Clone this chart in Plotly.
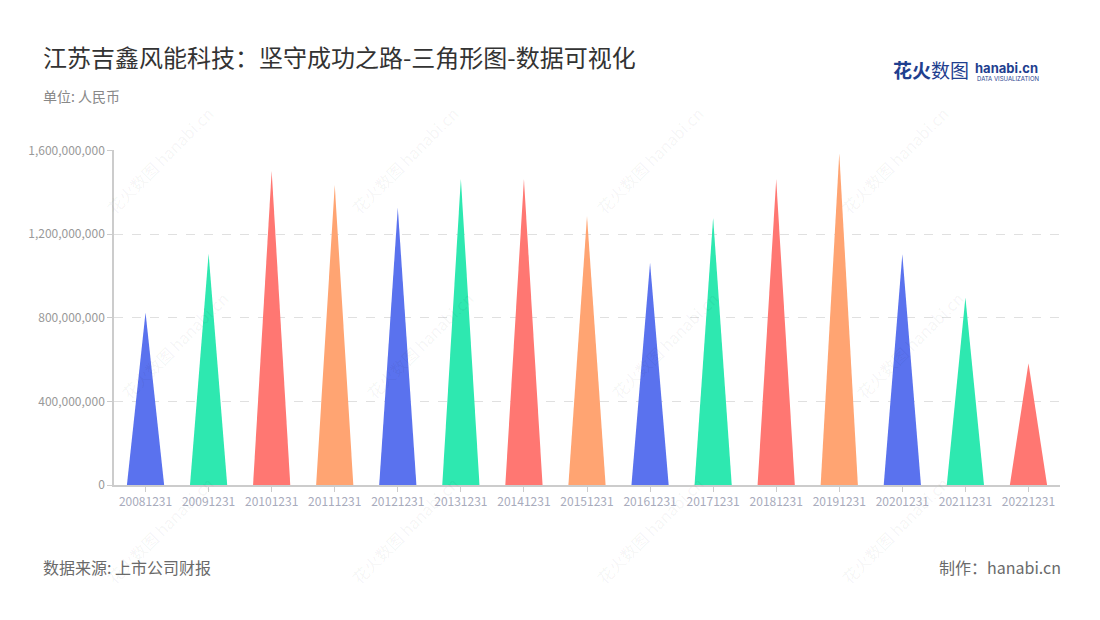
import plotly.graph_objects as go

categories = ["20081231", "20091231", "20101231", "20111231", "20121231",
              "20131231", "20141231", "20151231", "20161231", "20171231",
              "20181231", "20191231", "20201231", "20211231", "20221231"]
values = [825e6, 1107e6, 1502e6, 1435e6, 1327e6,
          1466e6, 1463e6, 1287e6, 1064e6, 1279e6,
          1463e6, 1587e6, 1104e6, 897e6, 583e6]
palette = ["#5A72EE", "#2EE8B0", "#FF7772", "#FFA472"]
y_ticks = [0, 400e6, 800e6, 1200e6, 1600e6]

FONT = "Noto Sans CJK SC"
half = 0.295
OFF = 8  # page body margin
W, H = 1100, 620
L, R, T, B = 114 - OFF, 40 + OFF, 150 - OFF, 135 + OFF

fig = go.Figure()
for i, (c, v) in enumerate(zip(categories, values)):
    fig.add_trace(go.Scatter(
        x=[i - half, i, i + half, i - half],
        y=[0, v, 0, 0],
        mode="lines",
        fill="toself",
        fillcolor=palette[i % 4],
        line=dict(width=0, color=palette[i % 4]),
        name=c,
        hoverinfo="text",
        text=f"{c}: {v:,.0f}",
        showlegend=False,
    ))

fig.update_layout(
    width=W, height=H,
    margin=dict(l=L, r=R, t=T, b=B),
    paper_bgcolor="white", plot_bgcolor="white",
    font=dict(family=FONT, color="#999"),
    xaxis=dict(
        range=[-0.5, len(categories) - 0.5],
        tickmode="array",
        tickvals=list(range(len(categories))),
        ticktext=categories,
        showgrid=False, zeroline=False,
        showline=True, linecolor="#cccccc", linewidth=1.5,
        ticks="outside", ticklen=5, tickcolor="#cccccc",
        tickfont=dict(size=12, color="#a8abbc", family=FONT),
        fixedrange=True,
    ),
    yaxis=dict(
        range=[0, 1.603e9],
        tickmode="array",
        tickvals=y_ticks,
        ticktext=[f"{int(t):,}" for t in y_ticks],
        showgrid=True, gridcolor="#e0e0e0", griddash="dash", gridwidth=1,
        zeroline=False,
        showline=True, linecolor="#cccccc", linewidth=1.5,
        ticks="outside", ticklen=5, tickcolor="#cccccc",
        tickfont=dict(size=12, color="#999999", family=FONT),
        fixedrange=True,
    ),
)

ann = []
ann.append(dict(text="江苏吉鑫风能科技：坚守成功之路-三角形图-数据可视化",
                x=41, y=56, xanchor="left", yanchor="middle", showarrow=False,
                font=dict(size=24, color="#333333", family=FONT)))
ann.append(dict(text="单位: 人民币", x=41, y=96,
                xanchor="left", yanchor="middle", showarrow=False,
                font=dict(size=14, color="#888888", family=FONT)))
ann.append(dict(text="数据来源: 上市公司财报", x=41, y=567,
                xanchor="left", yanchor="middle", showarrow=False,
                font=dict(size=16, color="#6a6a6a", family=FONT)))
ann.append(dict(text="制作：hanabi.cn", x=1063, y=567,
                xanchor="right", yanchor="middle", showarrow=False,
                font=dict(size=16, color="#6a6a6a", family=FONT)))
# logo
ann.append(dict(text="<b>花火</b>数图", x=891, y=70,
                xanchor="left", yanchor="middle", showarrow=False,
                font=dict(size=19, color="#1f3f8f", family=FONT)))
ann.append(dict(text="<b>hanabi.cn</b>", x=973, y=68,
                xanchor="left", yanchor="middle", showarrow=False,
                font=dict(size=13, color="#1f3f8f", family="Inter")))
ann.append(dict(text="DATA VISUALIZATION", x=975, y=79,
                xanchor="left", yanchor="middle", showarrow=False,
                font=dict(size=6, color="#1f3f8f", family="Inter")))

# faint watermarks
wm_pos = [(160, 160), (405, 160), (650, 160), (895, 160),
          (175, 345), (420, 345), (665, 345), (910, 345),
          (160, 530), (405, 530), (650, 530), (895, 530)]
for (px, py) in wm_pos:
    ann.append(dict(text="花火数图 hanabi.cn", x=px, y=py,
                    xanchor="center", yanchor="middle", showarrow=False,
                    textangle=-45,
                    font=dict(size=16, color="rgba(0,0,0,0.05)", family=FONT)))

pw = W - L - R
ph = H - T - B
for a in ann:
    a["xref"] = "paper"
    a["yref"] = "paper"
    fx = a["x"] - OFF
    fy = a["y"] - OFF
    a["x"] = (fx - L) / pw
    a["y"] = (H - fy - B) / ph
fig.update_layout(annotations=ann)

fig.write_html("out.html")
